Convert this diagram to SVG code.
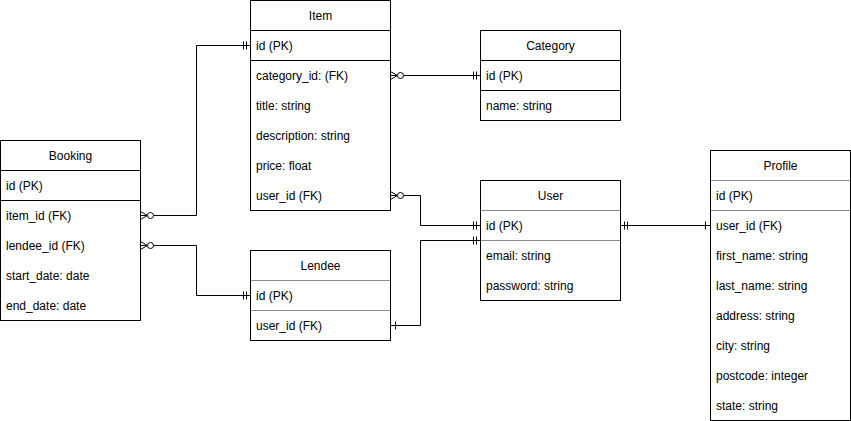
<svg xmlns="http://www.w3.org/2000/svg" xmlns:xlink="http://www.w3.org/1999/xlink" width="851" height="421" viewBox="0 0 851 421">
<style>
.box{fill:#fff;stroke:#000;stroke-width:1}
.sep{stroke:#000;stroke-width:1}
.sepg{stroke:#8c8c8c;stroke-width:1}
.t{font-family:"Liberation Sans",Arial,sans-serif;font-size:12px;fill:#000}
.h{text-anchor:middle}
.c{fill:none;stroke:#000;stroke-width:1}
.m{fill:none;stroke:#000;stroke-width:1}
</style>
<defs>
<g id="many0"><path class="m" d="M0,-4 L7,0 L0,4 M0,0 L7,0"/><circle cx="10" cy="0" r="3" fill="#fff" stroke="#000" stroke-width="1"/></g>
<g id="mand"><path class="m" d="M4,-4 V4 M7,-4 V4"/></g>
<g id="one"><path class="m" d="M5,-4 V4"/></g>
</defs>
<g id="connectors">
<path class="c" d="M140.5,215.5 H196.5 V45.5 H250.5"/>
<path class="c" d="M140.5,245.5 H196.5 V295.5 H250.5"/>
<path class="c" d="M390.5,75.5 H480.5"/>
<path class="c" d="M390.5,195.5 H420.5 V225.5 H480.5"/>
<path class="c" d="M390.5,325.5 H420.5 V240.5 H480.5"/>
<path class="c" d="M620.5,225.5 H710.5"/>
<use xlink:href="#many0" transform="translate(390.5,75.5)"/>
<use xlink:href="#many0" transform="translate(390.5,195.5)"/>
<use xlink:href="#many0" transform="translate(140.5,215.5)"/>
<use xlink:href="#many0" transform="translate(140.5,245.5)"/>
<use xlink:href="#mand" transform="translate(250.5,45.5) scale(-1,1)"/>
<use xlink:href="#mand" transform="translate(250.5,295.5) scale(-1,1)"/>
<use xlink:href="#mand" transform="translate(480.5,75.5) scale(-1,1)"/>
<use xlink:href="#mand" transform="translate(480.5,225.5) scale(-1,1)"/>
<use xlink:href="#mand" transform="translate(480.5,240.5) scale(-1,1)"/>
<use xlink:href="#mand" transform="translate(620.5,225.5)"/>
<use xlink:href="#one" transform="translate(390.5,325.5)"/>
<use xlink:href="#one" transform="translate(710.5,225.5) scale(-1,1)"/>
</g>
<g id="booking">
<rect class="box" x="0.5" y="140.5" width="140" height="180"/>
<line class="sep" x1="0.5" y1="170.5" x2="140.5" y2="170.5"/>
<line class="sep" x1="0.5" y1="200.5" x2="140.5" y2="200.5"/>
<text class="t h" x="70.5" y="159.5">Booking</text>
<text class="t" x="6" y="189.5">id (PK)</text>
<text class="t" x="6" y="219.5">item_id (FK)</text>
<text class="t" x="6" y="249.5">lendee_id (FK)</text>
<text class="t" x="6" y="279.5">start_date: date</text>
<text class="t" x="6" y="309.5">end_date: date</text>
</g>
<g id="item">
<rect class="box" x="250.5" y="0.5" width="140" height="210"/>
<line class="sep" x1="250.5" y1="30.5" x2="390.5" y2="30.5"/>
<line class="sep" x1="250.5" y1="60.5" x2="390.5" y2="60.5"/>
<text class="t h" x="320.5" y="19.5">Item</text>
<text class="t" x="256" y="49.5">id (PK)</text>
<text class="t" x="256" y="79.5">category_id: (FK)</text>
<text class="t" x="256" y="109.5">title: string</text>
<text class="t" x="256" y="139.5">description: string</text>
<text class="t" x="256" y="169.5">price: float</text>
<text class="t" x="256" y="199.5">user_id (FK)</text>
</g>
<g id="category">
<rect class="box" x="480.5" y="30.5" width="140" height="90"/>
<line class="sep" x1="480.5" y1="60.5" x2="620.5" y2="60.5"/>
<line class="sep" x1="480.5" y1="90.5" x2="620.5" y2="90.5"/>
<text class="t h" x="550.5" y="49.5">Category</text>
<text class="t" x="486" y="79.5">id (PK)</text>
<text class="t" x="486" y="109.5">name: string</text>
</g>
<g id="user">
<rect class="box" x="480.5" y="180.5" width="140" height="120"/>
<line class="sepg" x1="481" y1="210.5" x2="620" y2="210.5"/>
<line class="sepg" x1="481" y1="240.5" x2="620" y2="240.5"/>
<text class="t h" x="550.5" y="199.5">User</text>
<text class="t" x="486" y="229.5">id (PK)</text>
<text class="t" x="486" y="259.5">email: string</text>
<text class="t" x="486" y="289.5">password: string</text>
</g>
<g id="lendee">
<rect class="box" x="250.5" y="250.5" width="140" height="90"/>
<line class="sepg" x1="251" y1="280.5" x2="390" y2="280.5"/>
<line class="sepg" x1="251" y1="310.5" x2="390" y2="310.5"/>
<text class="t h" x="320.5" y="269.5">Lendee</text>
<text class="t" x="256" y="299.5">id (PK)</text>
<text class="t" x="256" y="329.5">user_id (FK)</text>
</g>
<g id="profile">
<rect class="box" x="710.5" y="150.5" width="140" height="270"/>
<line class="sepg" x1="711" y1="180.5" x2="850" y2="180.5"/>
<line class="sepg" x1="711" y1="210.5" x2="850" y2="210.5"/>
<text class="t h" x="780.5" y="169.5">Profile</text>
<text class="t" x="716" y="199.5">id (PK)</text>
<text class="t" x="716" y="229.5">user_id (FK)</text>
<text class="t" x="716" y="259.5">first_name: string</text>
<text class="t" x="716" y="289.5">last_name: string</text>
<text class="t" x="716" y="319.5">address: string</text>
<text class="t" x="716" y="349.5">city: string</text>
<text class="t" x="716" y="379.5">postcode: integer</text>
<text class="t" x="716" y="409.5">state: string</text>
</g>
</svg>
